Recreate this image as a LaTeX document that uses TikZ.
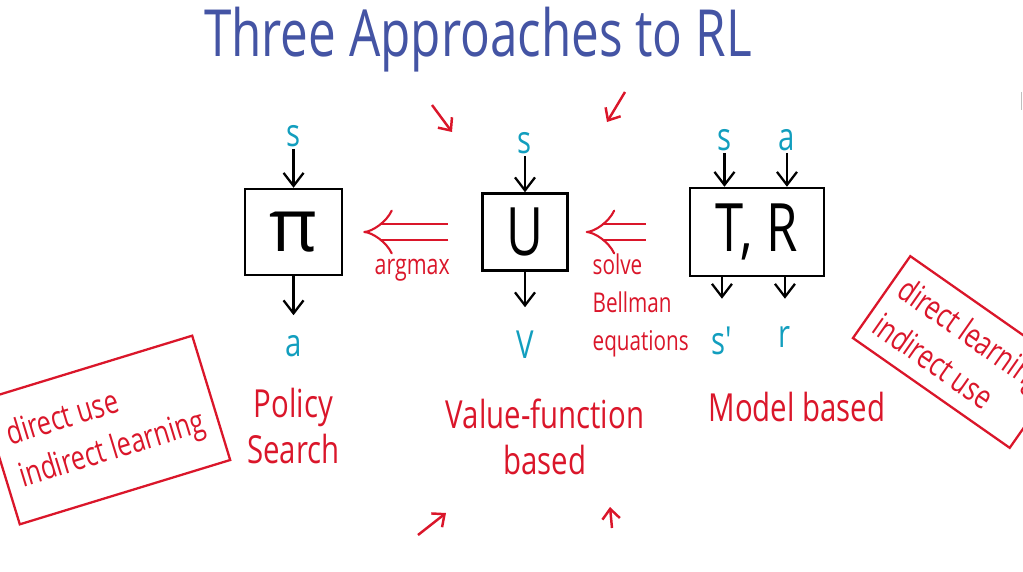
\documentclass[tikz,border=0pt]{standalone}
\usepackage{fontspec}
\newfontfamily\hand{Open Sans}[FakeStretch=0.76]
\newfontfamily\handwide{Open Sans}
\usetikzlibrary{arrows.meta,positioning,calc}
\definecolor{penblue}{RGB}{68,84,164}
\definecolor{penred}{RGB}{218,22,42}
\definecolor{pencyan}{RGB}{18,158,190}

\begin{document}
\begin{tikzpicture}[
  box/.style={draw, line width=1.4pt, inner sep=0pt, font=\hand\fontsize{38}{40}\selectfont},
  var/.style={text=pencyan, inner sep=1pt, font=\hand\fontsize{22}{24}\selectfont},
  flow/.style={line width=1.3pt, -{Straight Barb[length=2.6mm,width=4mm]}},
  impl/.style={penred, line width=1.2pt, double distance=0.28cm, -{Implies[length=0.5cm,width=0.9cm]}},
  note/.style={text=penred, align=center, inner sep=1pt, font=\hand\fontsize{22}{26}\selectfont},
  small/.style={text=penred, align=left, inner sep=1pt, font=\hand\fontsize{15.5}{21.5}\selectfont},
  card/.style={draw=penred, line width=1.3pt, text=penred, align=left, inner sep=6pt, font=\hand\fontsize{19}{25}\selectfont},
  tick/.style={penred, line width=1.4pt, -{Straight Barb[length=2mm,width=3.5mm]}}
]
\useasboundingbox (0,0) rectangle (20.46,11.42);

\node[text=penblue, font=\hand\fontsize{37}{42}\selectfont] (title) at (9.56,10.62) {Three Approaches to RL};

% the three boxes
\node[box, minimum width=1.7cm, minimum height=1.54cm] (u) at (10.5,6.78) {U};
\node[box, minimum width=1.94cm, minimum height=1.72cm, left=2.76cm of u,
  font=\handwide\fontsize{42}{44}\selectfont] (pi) {π};
\node[box, minimum width=2.68cm, minimum height=1.76cm, right=2.4cm of u] (tr) {T, R};

% inputs
\node[var, above=0.78cm of pi] (s1) {s};
\node[var, above=0.72cm of u] (s2) {s};
\node[var, above=0.68cm of tr.north, xshift=-0.65cm] (s3) {s};
\node[var, above=0.68cm of tr.north, xshift=0.6cm] (a3) {a};
\draw[flow] (s1) -- (pi);
\draw[flow] (s2) -- (u);
\draw[flow] (s3) -- (s3 |- tr.north);
\draw[flow] (a3) -- (a3 |- tr.north);

% outputs
\node[var, below=1.14cm of pi] (a1) {a};
\node[var, below=1.15cm of u] (v2) {V};
\node[var, below=0.95cm of tr.south, xshift=-0.7cm] (s4) {s'};
\node[var, below=0.95cm of tr.south, xshift=0.56cm] (r4) {r};
\draw[flow, shorten >=0.36cm] (pi) -- (a1);
\draw[flow, shorten >=0.44cm] (u) -- (v2);
\draw[flow, shorten >=0.52cm] (s4 |- tr.south) -- (s4);
\draw[flow, shorten >=0.52cm] (r4 |- tr.south) -- (r4);

% how one gets from one box to the next
\draw[impl, shorten >=0.4cm, shorten <=0.66cm] (u) --
  node[small, below=0.48cm, font=\hand\fontsize{16}{20}\selectfont] (argmax) {argmax} (pi);
\draw[impl, shorten >=0.34cm, shorten <=0.86cm] (tr) --
  node[small, below=0.38cm, xshift=0.24cm] (bellman) {solve\\Bellman\\equations} (u);

% names of the approaches
\node[note, below=0.55cm of a1] (policy) {Policy\\Search};
\node[note, below=0.72cm of v2, xshift=0.4cm] (valuefn) {Value-function\\based};
\node[note, below=0.8cm of r4, xshift=0.24cm] (model) {Model based};

% side notes
\node[card, rotate=17, minimum width=4.4cm, minimum height=2.6cm] (leftcard) at (2.12,2.82)
  {direct use\\indirect learning};
\node[card, rotate=-35, minimum height=2cm] (rightcard) at (19.2,4.38)
  {direct learning\\indirect use};

% little arrows
\draw[tick] (8.64,9.32) -- (9.04,8.78);
\draw[tick] (12.5,9.58) -- (12.14,8.98);
\draw[tick] (8.36,0.72) -- (8.92,1.16);
\draw[tick] (12.24,0.86) -- (12.2,1.28);
\draw[gray!50, line width=0.8pt] (20.43,9.58) -- (20.43,9.22);
\end{tikzpicture}
\end{document}
